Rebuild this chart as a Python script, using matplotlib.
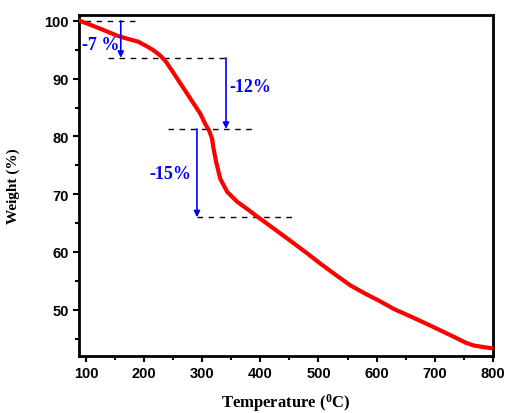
import matplotlib.pyplot as plt
import numpy as np

# TGA curve
temp = [90, 103, 121, 138, 155, 172, 190, 203, 215, 228, 238, 250, 267, 284, 297, 305,
        312, 317, 319, 324, 331, 343, 360, 378, 395, 421, 452, 480, 503, 530, 555, 580,
        607, 630, 659, 685, 710, 735, 753, 767, 785, 800]
weight = [100.0, 99.5, 98.8, 98.1, 97.4, 96.9, 96.4, 95.7, 95.0, 94.0, 92.9, 91.1, 88.5,
          85.9, 83.9, 82.2, 81.0, 79.6, 78.2, 75.6, 72.7, 70.4, 68.7, 67.4, 66.1, 64.2,
          61.9, 59.8, 58.0, 56.0, 54.2, 52.8, 51.4, 50.1, 48.8, 47.6, 46.4, 45.2, 44.3,
          43.8, 43.5, 43.3]

# dashed guide levels: weight, x start, x end
levels = [100.0, 93.6, 81.3, 66.0]
level_x0 = [98, 138, 241, 291]
level_x1 = [190, 348, 386, 457]

# arrows: x, from, to, label, label position
arrow_x = [160, 341, 291]
arrow_from = [100.0, 93.6, 81.3]
arrow_to = [93.6, 81.3, 66.0]
arrow_text = ['-7 %', '-12%', '-15%']
text_x = [126, 383, 245]
text_y = [96.0, 88.6, 73.5]

plt.rcParams['font.family'] = 'Liberation Sans'
plt.rcParams['font.weight'] = 'bold'
plt.rcParams['mathtext.fontset'] = 'custom'
plt.rcParams['mathtext.rm'] = 'Liberation Serif:bold'
plt.rcParams['mathtext.it'] = 'Liberation Serif:bold'

fig = plt.figure(figsize=(5.06, 4.14), dpi=100)
ax = fig.add_axes([0.156, 0.138, 0.818, 0.823])

ax.plot(temp, weight, color='red', lw=3, zorder=3, solid_joinstyle='round')

for lv, a, b in zip(levels, level_x0, level_x1):
    ax.plot([a, b], [lv, lv], color='black', lw=1, ls=(0, (4, 4)))

for x, y0, y1, t, tx, ty in zip(arrow_x, arrow_from, arrow_to, arrow_text, text_x, text_y):
    ax.annotate('', xy=(x, y1), xytext=(x, y0),
                arrowprops=dict(arrowstyle='-|>', color='blue', lw=1.2,
                                mutation_scale=9, shrinkA=0, shrinkB=0))
    ax.text(tx, ty, t, color='blue', fontsize=13, fontweight='bold',
            family='Liberation Serif', ha='center', va='center')

ax.set_xlim(88, 800)
ax.set_ylim(42, 101)
ax.set_xticks(np.arange(100, 801, 100))
ax.set_xticks(np.arange(150, 800, 100), minor=True)
ax.set_yticks(np.arange(50, 101, 10))
ax.set_yticks(np.arange(45, 100, 10), minor=True)

for s in ax.spines.values():
    s.set_linewidth(2)

ax.tick_params(which='both', direction='out', width=1.5, top=False, right=False,
               labelsize=10.5)
ax.tick_params(which='major', length=4)
ax.tick_params(which='minor', length=3)

ax.set_xlabel('Temperature ($^{0}$C)', fontsize=12, fontweight='bold',
              family='Liberation Serif', labelpad=8)
ax.set_ylabel('Weight (%)', fontsize=11, fontweight='bold',
              family='Liberation Serif', labelpad=17)

plt.savefig('out.png', dpi=100)
